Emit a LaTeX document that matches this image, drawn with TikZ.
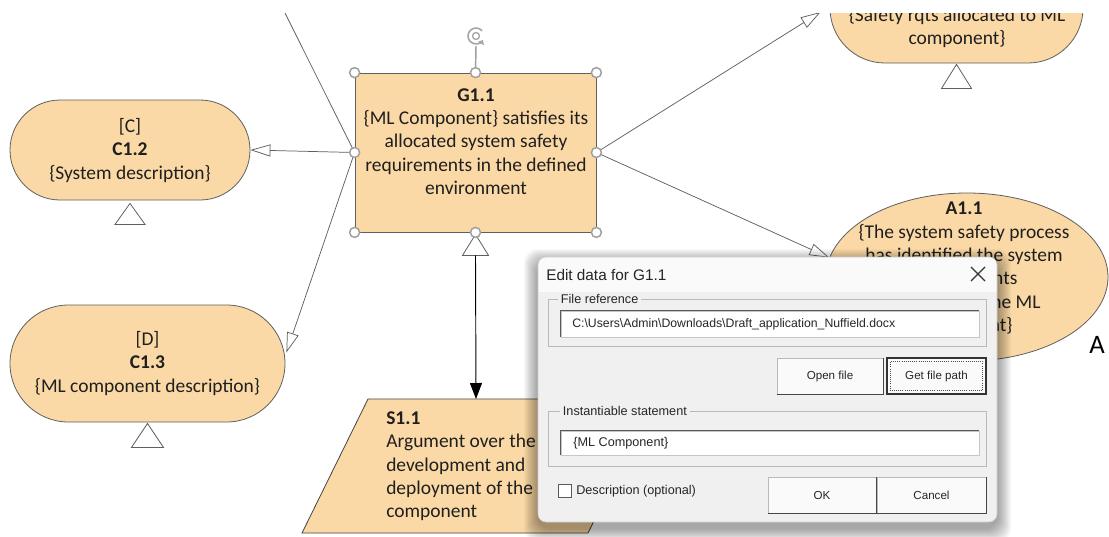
\documentclass[tikz,border=0pt]{standalone}
\usepackage{fontspec}
\setmainfont{Carlito}
\newfontfamily\dlgfont{Liberation Sans}
\usetikzlibrary{arrows.meta,shapes.misc,shapes.geometric,calc}
\definecolor{gsnfill}{RGB}{251,217,166}
\definecolor{gsnline}{RGB}{95,95,95}
\definecolor{dlgbody}{RGB}{240,240,240}
\definecolor{dlgtitle}{RGB}{250,250,250}
\begin{document}
\begin{tikzpicture}[x=0.75pt,y=-0.75pt,
  gsntxt/.style={font=\fontsize{14.6}{17.5}\selectfont, text=black!88, align=center, inner sep=0},
  stadium/.style={rounded rectangle, draw=gsnline, fill=gsnfill, line width=0.6pt, inner sep=0},
  conn/.style={draw=gsnline, line width=0.55pt},
  ctx/.style={conn, -{Triangle[open,length=15pt,width=9pt]}},
  supby/.style={draw=black, line width=0.7pt, -{Triangle[length=12pt,width=9pt]}},
  undev/.style={draw=gsnline, fill=white, line width=0.6pt},
  handle/.style={circle, draw=gray!75, fill=white, line width=1.1pt, inner sep=0, minimum size=7.5pt},
  dlgf/.style={font=\dlgfont\fontsize{9.5}{11}\selectfont, text=black!85, inner sep=0},
  btn/.style={draw=gray!55, fill=gray!4, minimum height=27pt, inner sep=0, font=\dlgfont\fontsize{8.7}{10}\selectfont, text=black!85},
  tfield/.style={fill=white, draw=gray!45, inner sep=0},
  gbox/.style={draw=gray!55, inner sep=0, line width=0.6pt}
]
\useasboundingbox (0,0) rectangle (1109,536);
\fill[white] (0,0) rectangle (1109,536);

% ---------- GSN nodes ----------
\node[stadium, minimum width=180pt, minimum height=75pt] (c12) at (130,150) {};
\node[gsntxt] (c12t) at (130,150.5) {[C]\\\textbf{C1.2}\\\{System description\}};

\node[stadium, minimum width=206.25pt, minimum height=87.75pt] (c13) at (147.5,363.5) {};
\node[gsntxt] (c13t) at (147.5,363.5) {[D]\\\textbf{C1.3}\\\{ML component description\}};

\node[stadium, minimum width=189.75pt, minimum height=82.5pt] (tr) at (956.5,8) {};
\node[gsntxt] (trt) at (957,27.5) {\{Safety rqts allocated to ML\\component\}};

\node[ellipse, draw=gsnline, fill=gsnfill, line width=0.6pt, minimum width=211.5pt, minimum height=126pt, inner sep=0] (a11) at (967,277) {};
\node[gsntxt] (a11t) at (964,268.5) {\textbf{A1.1}\\\{The system safety process\\has identified the system\\requirements\\allocated to the ML\\component\}};
\node[font=\fontsize{20}{22}\selectfont, inner sep=0] (aletter) at (1097,345) {A};

\node[draw=gsnline, fill=gsnfill, line width=0.6pt, minimum width=180.75pt, minimum height=119.25pt, inner sep=0] (g) at (475.5,152.5) {};
\node[gsntxt] (gt) at (476,141.5) {\textbf{G1.1}\\\{ML Component\} satisfies its\\allocated system safety\\requirements in the defined\\environment};

% S1.1 parallelogram
\path[draw=gsnline!70!black, fill=gsnfill, line width=0.6pt] (368,399) coordinate (s11a) -- (654,399) -- (588,533) -- (302,533) -- cycle;
\coordinate (s11top) at (476,399);
\node[gsntxt, align=left, anchor=west] (s11t) at (386,466.5) {\textbf{S1.1}\\Argument over the\\development and\\deployment of the\\component};

% ---------- undeveloped / instantiation triangles ----------
\draw[undev] ($(c12.south)+(0,3)$) -- ++(15,21) -- ++(-30,0) -- cycle;
\draw[undev] ($(c13.south)+(0,1)$) -- ++(16,24) -- ++(-32,0) -- cycle;
\draw[undev] ($(tr.south)+(0,1)$) -- ++(15,24) -- ++(-30,0) -- cycle;
\draw[undev] ($(g.south)+(0,2)$) -- ++(13,21) -- ++(-26,0) -- cycle;
\coordinate (gtri) at ($(g.south)+(0,23)$);

% ---------- connectors ----------
\coordinate (tl) at (285,13);
\draw[conn] (tl) -- (g.west);
\draw[ctx] (g.west) -- (c12.east);
\draw[ctx] (g.west) -- ($(c13.east)+(1,-11)$);
\draw[ctx] (g.east) -- ($(tr.west)+(-9,4)$);
\draw[ctx] (g.east) -- (a11.172);
\draw[supby] (gtri) -- (s11top);

% ---------- selection handles ----------
\coordinate (rot) at (476,36);
\draw[gray!75, line width=1.1pt] (g.north) -- ($(rot)+(0,10)$);
\foreach \a/\n in {north west/a,north/b,north east/c,west/d,east/e,south west/f,south/h,south east/i}
  \node[handle] (hd\n) at (g.\a) {};
\draw[gray!70, line width=1.2pt, -{Triangle[length=3pt,width=5pt]}] ([shift={(40:6pt)}]rot) arc[start angle=40, end angle=330, radius=6pt];
\draw[gray!70, line width=1pt] (rot) circle[radius=2.6pt];

% top band
\fill[white] (0,0) rectangle (1109,13);

% ---------- dialog ----------
\foreach \i in {1,...,14}
  \fill[black, opacity=0.028, rounded corners=10pt] ({538-\i},{257-\i+6}) rectangle ({997+\i},{522+\i+6});
\node[fill=dlgbody, rounded corners=6pt, minimum width=344.25pt, minimum height=198.75pt, inner sep=0] (dlg) at (767.5,389.5) {};
\begin{scope}
  \clip[rounded corners=6pt] (538,257) rectangle (997,522);
  \fill[dlgtitle] (538,257) rectangle (997,292);
\end{scope}
\draw[gray!40, rounded corners=6pt] (538,257) rectangle (997,522);

\node[dlgf, anchor=west, font=\dlgfont\fontsize{11.5}{13}\selectfont] (dtitle) at (546,275) {Edit data for G1.1};
\coordinate (xc) at (978,274);
\draw[line width=0.9pt, black!80] ($(xc)+(-7,-7)$) -- ($(xc)+(7,7)$) ($(xc)+(-7,7)$) -- ($(xc)+(7,-7)$);

% group box 1
\node[gbox, minimum width=328.5pt, minimum height=35.25pt] (gb1) at (767,322.5) {};
\node[dlgf, fill=dlgbody, anchor=west, inner xsep=2pt] (gb1l) at (558,299) {File reference};
\node[tfield, minimum width=313.5pt, minimum height=19.5pt] (tf1) at (770,324) {};
\draw[gray!70!black, line width=1pt] (tf1.south west) -- (tf1.north west) -- (tf1.north east);
\node[dlgf, anchor=west, font=\dlgfont\fontsize{9.2}{11}\selectfont] (tf1t) at (572,324) {C:\textbackslash Users\textbackslash Admin\textbackslash Downloads\textbackslash Draft\_application\_Nuffield.docx};

% buttons row 1
\node[btn, minimum width=79.5pt] (bopen) at (830,376) {Open file};
\draw[gray!55!black, line width=1pt] (bopen.south west) -- (bopen.south east) -- (bopen.north east);
\node[btn, draw=black!80, line width=1pt, minimum width=74.25pt] (bpath) at (936.5,376) {Get file path};
\draw[black!70, densely dotted, line width=0.6pt] ($(bpath.south west)+(4,-4)$) rectangle ($(bpath.north east)+(-4,4)$);

% group box 2
\node[gbox, minimum width=328.5pt, minimum height=41.25pt] (gb2) at (767,438.5) {};
\node[dlgf, fill=dlgbody, anchor=west, inner xsep=2pt] (gb2l) at (560,411) {Instantiable statement};
\node[tfield, minimum width=313.5pt, minimum height=18pt] (tf2) at (770,443) {};
\draw[gray!70!black, line width=1pt] (tf2.south west) -- (tf2.north west) -- (tf2.north east);
\node[dlgf, anchor=west] (tf2t) at (573,443) {\{ML Component\}};

% checkbox
\node[draw=gray!70!black, fill=white, minimum size=9.75pt, inner sep=0] (cb) at (564.5,490.5) {};
\node[dlgf, anchor=west] (cbl) at (576,491) {Description (optional)};

% buttons row 2
\node[btn, minimum width=81pt] (bok) at (822,495) {OK};
\draw[gray!55!black, line width=1pt] (bok.south west) -- (bok.south east) -- (bok.north east);
\node[btn, minimum width=81.75pt] (bcancel) at (931.5,495) {Cancel};
\draw[gray!55!black, line width=1pt] (bcancel.south west) -- (bcancel.south east) -- (bcancel.north east);
\end{tikzpicture}
\end{document}
